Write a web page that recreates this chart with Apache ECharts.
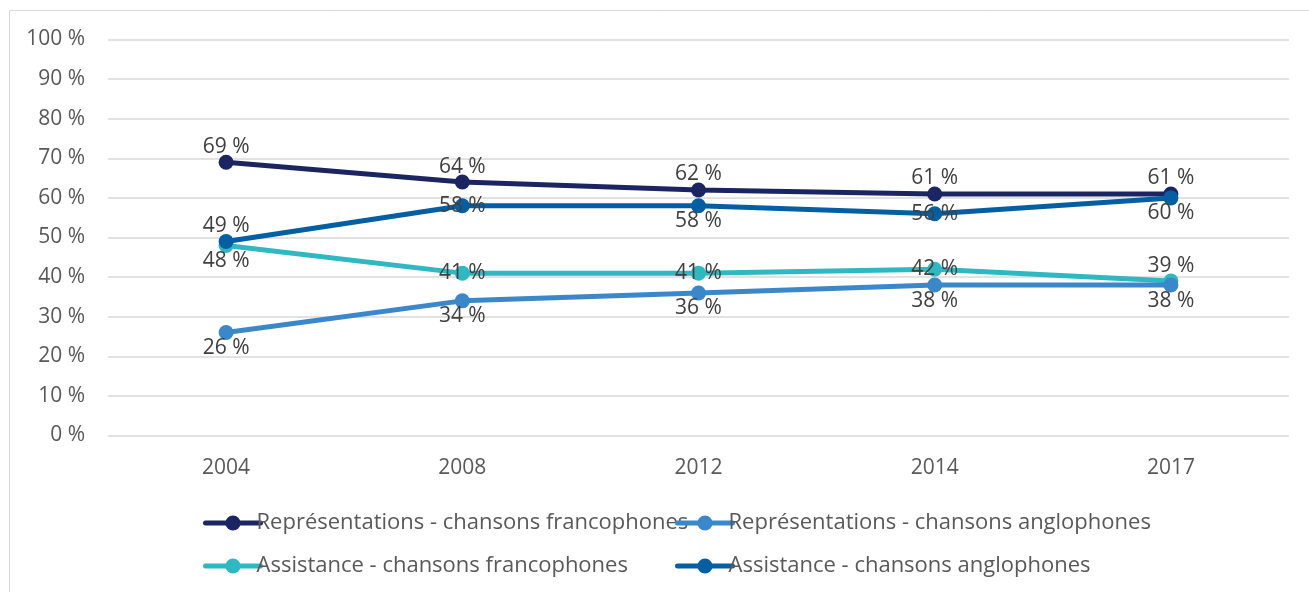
<!DOCTYPE html>
<html><head><meta charset="utf-8">
<script src="https://cdn.jsdelivr.net/npm/echarts@6/dist/echarts.min.js"></script>
<style>html,body{margin:0;padding:0;background:#fff}#c{width:1309px;height:592px}</style>
</head><body><div id="c"></div>
<script>
const categories = ['2004','2008','2012','2014','2017'];
const repFranco = [69, 64, 62, 61, 61];
const repAnglo = [26, 34, 36, 38, 38];
const assFranco = [48, 41, 41, 42, 39];
const assAnglo = [49, 58, 58, 56, 60];
const names = ['Représentations - chansons francophones','Représentations - chansons anglophones','Assistance - chansons francophones','Assistance - chansons anglophones'];
// label positions per point
const posRepFranco = ['top','top','top','top','top'];
const posRepAnglo = ['bottom','bottom','bottom','bottom','bottom'];
const posAssFranco = ['bottom','inside','inside','inside','top'];
const posAssAnglo = ['top','inside','bottom','inside','bottom'];

const FONT = 'Open Sans';
function mk(name, vals, pos, color, z) {
  return {
    name, type: 'line', data: vals.map((v, i) => ({ value: v, label: { position: pos[i] } })),
    symbol: 'circle', symbolSize: 15, z,
    lineStyle: { width: 5, color }, itemStyle: { color },
    label: { show: true, formatter: p => p.value + ' %', fontFamily: FONT, fontSize: 21, color: '#404040', distance: -2.5 },
    emphasis: { disabled: true }
  };
}
const legendBase = { orient: 'vertical', top: 507, itemWidth: 55, itemHeight: 19, itemGap: 21,
  lineStyle: { width: 5, cap: 'round' },
  textStyle: { fontFamily: FONT, fontSize: 22, color: '#595959', padding: [0,0,0,-9] } };
const chart = echarts.init(document.getElementById('c'), null, { renderer: 'canvas' });
chart.setOption({
  animation: false,
  backgroundColor: '#fff',
  graphic: [{ type: 'rect', shape: { x: 9.5, y: 10.5, width: 1320, height: 600 }, style: { fill: 'none', stroke: '#d9d9d9', lineWidth: 1 }, silent: true }],
  grid: { left: 108, right: 20, top: 39.5, bottom: 156.5, containLabel: false },
  xAxis: {
    type: 'category', data: categories, boundaryGap: true,
    axisLine: { show: false }, axisTick: { show: false },
    axisLabel: { fontFamily: FONT, fontSize: 21, color: '#595959', margin: 22 }
  },
  yAxis: {
    type: 'value', min: 0, max: 100, interval: 10,
    axisLabel: { formatter: v => v + ' %', fontFamily: FONT, fontSize: 21, color: '#595959', margin: 23 },
    splitLine: { lineStyle: { color: '#d9d9d9', width: 1.5 } },
    axisLine: { show: false }, axisTick: { show: false }
  },
  legend: [
    Object.assign({}, legendBase, { left: 198, data: [names[0], names[2]] }),
    Object.assign({}, legendBase, { left: 670, data: [names[1], names[3]] })
  ],
  series: [
    mk(names[0], repFranco, posRepFranco, '#1b2561', 4),
    mk(names[1], repAnglo, posRepAnglo, '#3a87c9', 3),
    mk(names[2], assFranco, posAssFranco, '#30b8c2', 2),
    mk(names[3], assAnglo, posAssAnglo, '#035fa2', 5)
  ]
});
</script></body></html>
